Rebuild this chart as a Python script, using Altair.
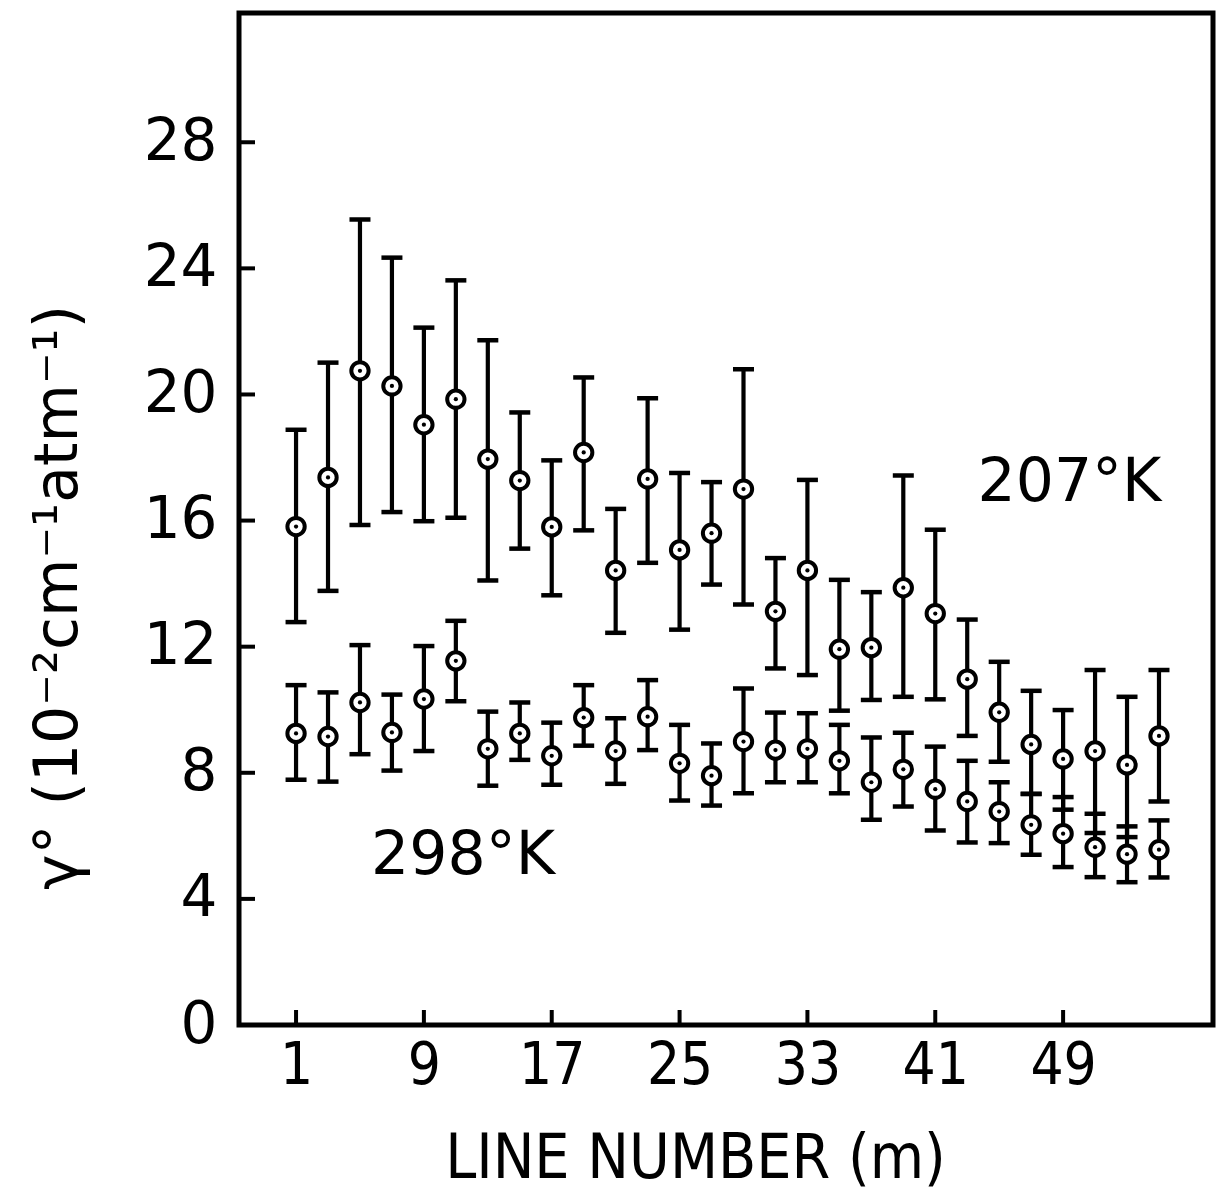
import altair as alt
import pandas as pd

# Line numbers (odd m)
m = [1, 3, 5, 7, 9, 11, 13, 15, 17, 19, 21, 23, 25, 27,
     29, 31, 33, 35, 37, 39, 41, 43, 45, 47, 49, 51, 53, 55]

# 207 K series
c207 = [15.81, 17.37, 20.75, 20.27, 19.04, 19.85, 17.95, 17.27, 15.80, 18.16, 14.42, 17.32, 15.07, 15.60,
        17.00, 13.12, 14.42, 11.92, 11.97, 13.87, 13.05, 10.97, 9.92, 8.90, 8.44, 8.69, 8.25, 9.17]
hi207 = [18.88, 21.01, 25.55, 24.34, 22.12, 23.62, 21.72, 19.43, 17.91, 20.54, 16.37, 19.88, 17.51, 17.22,
         20.80, 14.81, 17.29, 14.12, 13.73, 17.43, 15.71, 12.86, 11.52, 10.60, 9.99, 11.26, 10.41, 11.26]
lo207 = [12.78, 13.77, 15.86, 16.27, 15.98, 16.09, 14.10, 15.11, 13.63, 15.69, 12.44, 14.66, 12.54, 13.97,
         13.34, 11.31, 11.10, 9.97, 10.31, 10.41, 10.33, 9.17, 8.35, 7.33, 6.83, 6.09, 5.96, 7.09]

# 298 K series
c298 = [9.25, 9.15, 10.23, 9.28, 10.34, 11.55, 8.76, 9.25, 8.54, 9.75, 8.69, 9.78, 8.30, 7.91,
        8.99, 8.72, 8.76, 8.38, 7.70, 8.11, 7.48, 7.09, 6.77, 6.35, 6.07, 5.64, 5.42, 5.56]
hi298 = [10.78, 10.55, 12.05, 10.48, 12.02, 12.82, 9.94, 10.23, 9.59, 10.78, 9.73, 10.94, 9.52, 8.93,
         10.67, 9.91, 9.89, 9.52, 9.12, 9.27, 8.83, 8.38, 7.70, 7.33, 7.23, 6.70, 6.30, 6.49]
lo298 = [7.78, 7.72, 8.59, 8.07, 8.69, 10.27, 7.59, 8.41, 7.62, 8.86, 7.65, 8.72, 7.12, 6.96,
         7.35, 7.70, 7.70, 7.35, 6.51, 6.93, 6.17, 5.79, 5.77, 5.40, 5.01, 4.69, 4.53, 4.68]

x_ticks = [1, 9, 17, 25, 33, 41, 49]
y_ticks = [0, 4, 8, 12, 16, 20, 24, 28]

label_text = ["207°K", "298°K"]
label_m = [49.4, 11.45]
label_v = [17.2, 5.35]

rows = []
for i, mm in enumerate(m):
    rows.append({"m": mm, "series": "207", "c": c207[i], "lo": lo207[i], "hi": hi207[i]})
    rows.append({"m": mm, "series": "298", "c": c298[i], "lo": lo298[i], "hi": hi298[i]})
df = pd.DataFrame(rows)
df_lab = pd.DataFrame({"m": label_m, "v": label_v, "t": label_text})
df_xt = pd.DataFrame({"t": x_ticks})
df_yt = pd.DataFrame({"t": y_ticks})

W, H = 974, 1012
FONT = "DejaVu Sans"
CFONT = "'DejaVu Sans Condensed', 'Liberation Sans Narrow', 'DejaVu Sans'"

xscale = alt.Scale(domain=[-2.57, 58.38], nice=False, zero=False)
yscale = alt.Scale(domain=[0, 32.1], nice=False, zero=False)

xaxis = alt.Axis(values=x_ticks, ticks=False, domain=False, grid=False,
                 labelFontSize=58, labelFont=CFONT, labelColor="black", labelPadding=12,
                 title="LINE NUMBER (m)", titleFont=CFONT, titleFontSize=62,
                 titleFontWeight="normal", titleColor="black",
                 titleX=456, titleY=152, titleBaseline="alphabetic", titleAlign="center")
yaxis = alt.Axis(values=y_ticks, ticks=False, domain=False, grid=False,
                 labelFontSize=58, labelFont=FONT, labelColor="black", labelPadding=22,
                 title="γ° (10⁻²cm⁻¹atm⁻¹)", titleFont=FONT, titleFontSize=60,
                 titleFontWeight="normal", titleColor="black",
                 titleX=-163, titleY=584, titleAngle=270,
                 titleBaseline="alphabetic", titleAlign="center")

base = alt.Chart(df)

bars = base.mark_rule(color="black", strokeWidth=4.2).encode(
    x=alt.X("m:Q", scale=xscale, axis=xaxis),
    y=alt.Y("lo:Q", scale=yscale, axis=yaxis),
    y2="hi:Q",
)
cap_hi = base.mark_tick(orient="horizontal", size=21, thickness=4.5, color="black", opacity=1).encode(
    x=alt.X("m:Q", scale=xscale), y=alt.Y("hi:Q", scale=yscale))
cap_lo = base.mark_tick(orient="horizontal", size=21, thickness=4.5, color="black", opacity=1).encode(
    x=alt.X("m:Q", scale=xscale), y=alt.Y("lo:Q", scale=yscale))
circ = base.mark_point(shape="circle", size=300, fill="white", fillOpacity=1,
                       stroke="black", strokeWidth=4, opacity=1).encode(
    x=alt.X("m:Q", scale=xscale), y=alt.Y("c:Q", scale=yscale))
dot = base.mark_circle(size=18, color="black", opacity=1).encode(
    x=alt.X("m:Q", scale=xscale), y=alt.Y("c:Q", scale=yscale))

xt = alt.Chart(df_xt).mark_rule(color="black", strokeWidth=4).encode(
    x=alt.X("t:Q", scale=xscale), y=alt.value(H), y2=alt.value(H - 15))
yt = alt.Chart(df_yt).mark_rule(color="black", strokeWidth=4).encode(
    y=alt.Y("t:Q", scale=yscale), x=alt.value(0), x2=alt.value(16))

labels = alt.Chart(df_lab).mark_text(font=FONT, fontSize=60, color="black",
                                     align="center", baseline="middle").encode(
    x=alt.X("m:Q", scale=xscale), y=alt.Y("v:Q", scale=yscale), text="t:N")

chart = alt.layer(bars, cap_hi, cap_lo, circ, dot, xt, yt, labels).properties(
    width=W, height=H,
    autosize=alt.AutoSizeParams(type="none"),
    padding={"left": 239, "top": 13, "right": 5, "bottom": 166},
    background="white",
).configure_view(stroke="black", strokeWidth=5)

chart.save("out.html", embed_options={"renderer": "svg", "actions": False})
